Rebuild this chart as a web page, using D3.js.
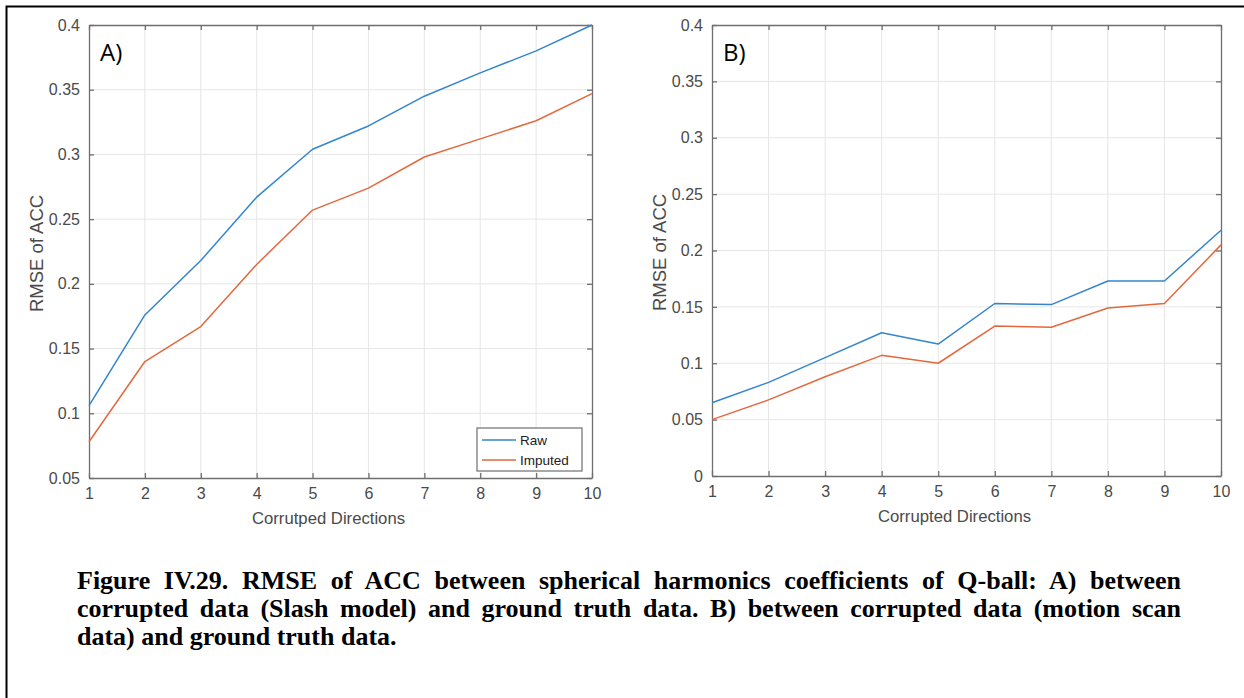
<!DOCTYPE html>
<html>
<head>
<meta charset="utf-8">
<script src="https://cdn.jsdelivr.net/npm/d3@7"></script>
<style>
  html, body { margin: 0; padding: 0; background: #fff; }
  svg { display: block; }
</style>
</head>
<body>
<svg id="chart" width="1244" height="698"></svg>
<script>
// ---- Data ----
const directions = [1, 2, 3, 4, 5, 6, 7, 8, 9, 10];
const rawA = [0.106, 0.176, 0.218, 0.267, 0.304, 0.322, 0.345, 0.363, 0.380, 0.400];
const imputedA = [0.078, 0.140, 0.167, 0.215, 0.257, 0.274, 0.298, 0.312, 0.326, 0.347];
const rawB = [0.065, 0.083, 0.105, 0.127, 0.117, 0.153, 0.152, 0.173, 0.173, 0.218];
const imputedB = [0.050, 0.0675, 0.088, 0.107, 0.100, 0.133, 0.132, 0.149, 0.153, 0.205];
const yTicksA = [0.05, 0.1, 0.15, 0.2, 0.25, 0.3, 0.35, 0.4];
const yTicksB = [0, 0.05, 0.1, 0.15, 0.2, 0.25, 0.3, 0.35, 0.4];
const seriesNames = ["Raw", "Imputed"];
const captionLines = [
  "Figure IV.29. RMSE of ACC between spherical harmonics coefficients of Q-ball: A) between",
  "corrupted data (Slash model) and ground truth data. B) between corrupted data (motion scan",
  "data) and ground truth data."
];

const colors = ["#3585cc", "#e2693d"];
const axisColor = "#6f6f6f";
const gridColor = "#e6e6e6";
const tickTextColor = "#4a4a4a";

const svg = d3.select("#chart");
svg.append("rect").attr("width", 1244).attr("height", 698).attr("fill", "#fff");

// page border (left + top)
svg.append("path")
  .attr("d", "M6.5,698 L6.5,6.5 L1244,6.5")
  .attr("fill", "none").attr("stroke", "#000").attr("stroke-width", 2);

function drawPanel(cfg) {
  const x = d3.scaleLinear().domain([1, 10]).range([cfg.left, cfg.right]);
  const y = d3.scaleLinear().domain(cfg.yDomain).range([cfg.bottom, cfg.top]);
  const g = svg.append("g");

  // grid
  g.selectAll(".vg").data(directions.slice(1, -1)).join("line")
    .attr("x1", d => x(d)).attr("x2", d => x(d))
    .attr("y1", cfg.top).attr("y2", cfg.bottom)
    .attr("stroke", gridColor).attr("stroke-width", 1);
  g.selectAll(".hg").data(cfg.yTicks.slice(1, -1)).join("line")
    .attr("y1", d => y(d)).attr("y2", d => y(d))
    .attr("x1", cfg.left).attr("x2", cfg.right)
    .attr("stroke", gridColor).attr("stroke-width", 1);

  // axes via d3 axis, ticks inward
  const xAxis = d3.axisBottom(x).tickValues(directions).tickSizeInner(-5).tickSizeOuter(0).tickPadding(10).tickFormat(d3.format("d"));
  const xAxisTop = d3.axisTop(x).tickValues(directions).tickSizeInner(-5).tickSizeOuter(0).tickFormat("");
  const yAxis = d3.axisLeft(y).tickValues(cfg.yTicks).tickSizeInner(-5).tickSizeOuter(0).tickPadding(9).tickFormat(d => d3.format("")(+d.toFixed(2)));
  const yAxisRight = d3.axisRight(y).tickValues(cfg.yTicks).tickSizeInner(-5).tickSizeOuter(0).tickFormat("");

  const styleAxis = sel => {
    sel.select(".domain").attr("stroke", axisColor).attr("stroke-width", 1.3);
    sel.selectAll(".tick line").attr("stroke", axisColor).attr("stroke-width", 1.3);
    sel.selectAll(".tick text").attr("fill", tickTextColor)
      .style("font-family", "'Liberation Sans', Arial, sans-serif").style("font-size", "16px");
  };
  g.append("g").attr("transform", `translate(0,${cfg.bottom})`).call(xAxis).call(styleAxis);
  g.append("g").attr("transform", `translate(0,${cfg.top})`).call(xAxisTop).call(styleAxis);
  g.append("g").attr("transform", `translate(${cfg.left},0)`).call(yAxis).call(styleAxis);
  g.append("g").attr("transform", `translate(${cfg.right},0)`).call(yAxisRight).call(styleAxis);

  // lines
  const line = d3.line().x((d, i) => x(directions[i])).y(d => y(d));
  [cfg.raw, cfg.imputed].forEach((s, k) => {
    g.append("path").datum(s).attr("d", line)
      .attr("fill", "none").attr("stroke", colors[k]).attr("stroke-width", 1.5)
      .attr("stroke-linejoin", "round");
  });

  // axis labels
  g.append("text")
    .attr("x", (cfg.left + cfg.right) / 2 - 12).attr("y", cfg.bottom + 46)
    .attr("text-anchor", "middle").attr("fill", tickTextColor)
    .style("font-family", "'Liberation Sans', Arial, sans-serif").style("font-size", "16.7px")
    .text(cfg.xLabel);
  g.append("text")
    .attr("transform", `translate(${cfg.left - 46},${(cfg.top + cfg.bottom) / 2 + 2}) rotate(-90)`)
    .attr("text-anchor", "middle").attr("fill", tickTextColor)
    .style("font-family", "'Liberation Sans', Arial, sans-serif").style("font-size", "18.5px")
    .text("RMSE of ACC");

  // panel label
  g.append("text")
    .attr("x", cfg.left + 11).attr("y", cfg.top + 36)
    .attr("fill", "#000")
    .style("font-family", "'Open Sans', sans-serif").style("font-size", "24px")
    .text(cfg.panel);

  if (cfg.legend) {
    const lx = cfg.right - 115, ly = cfg.bottom - 50;
    const lg = g.append("g");
    lg.append("rect").attr("x", lx).attr("y", ly).attr("width", 105).attr("height", 43)
      .attr("fill", "#fff").attr("stroke", axisColor).attr("stroke-width", 1.2);
    seriesNames.forEach((n, k) => {
      const yy = ly + 12 + k * 20;
      lg.append("line").attr("x1", lx + 5).attr("x2", lx + 39).attr("y1", yy).attr("y2", yy)
        .attr("stroke", colors[k]).attr("stroke-width", 1.5);
      lg.append("text").attr("x", lx + 43).attr("y", yy + 5)
        .attr("fill", "#222")
        .style("font-family", "'Liberation Sans', Arial, sans-serif").style("font-size", "13.5px")
        .text(n);
    });
  }
}

drawPanel({ left: 89, right: 592, top: 25, bottom: 478, yDomain: [0.05, 0.4], yTicks: yTicksA,
  raw: rawA, imputed: imputedA, xLabel: "Corrutped Directions", panel: "A)", legend: true });
drawPanel({ left: 712, right: 1221, top: 25, bottom: 476, yDomain: [0, 0.4], yTicks: yTicksB,
  raw: rawB, imputed: imputedB, xLabel: "Corrupted Directions", panel: "B)", legend: false });

// caption, justified lines
const capLeft = 77, capRight = 1181;
captionLines.forEach((t, i) => {
  const txt = svg.append("text")
    .attr("x", capLeft).attr("y", 589 + i * 28)
    .attr("fill", "#000")
    .style("font-family", "'Liberation Serif', 'Times New Roman', serif")
    .style("font-weight", "bold").style("font-size", "26px")
    .text(t);
  if (i < captionLines.length - 1) {
    const natural = txt.node().getComputedTextLength();
    const spaces = (t.match(/ /g) || []).length;
    const extra = (capRight - capLeft - natural) / spaces;
    txt.style("word-spacing", extra + "px");
  }
});
</script>
</body>
</html>
